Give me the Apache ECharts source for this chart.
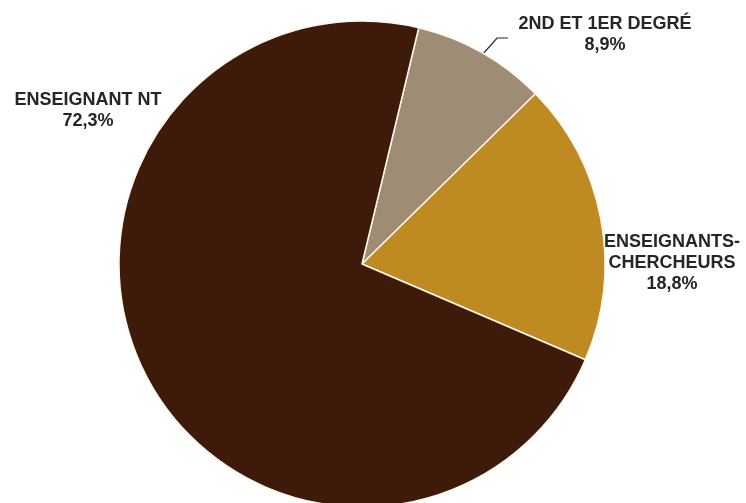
<!DOCTYPE html>
<html><head><meta charset="utf-8">
<script src="https://cdn.jsdelivr.net/npm/echarts@6/dist/echarts.min.js"></script>
<style>html,body{margin:0;padding:0;background:#fff}#c{width:746px;height:503px}</style>
</head><body><div id="c"></div>
<script>
var categories = ['2ND ET 1ER DEGRÉ', 'ENSEIGNANTS-\nCHERCHEURS', 'ENSEIGNANT NT'];
var values = [8.9, 18.8, 72.3];
var colors = ['#9E8C74', '#BF8A22', '#3E1A0A'];
var labelPos = [[605, 35], [672, 263], [88, 111]];
var linePts = [[[482, 55], [497, 38], [508, 38]], null, null];

var chart = echarts.init(document.getElementById('c'), null, {renderer: 'canvas'});
var data = categories.map(function (c, i) {
  return {
    name: c, value: values[i],
    itemStyle: {color: colors[i]},
    labelLine: {show: !!linePts[i], lineStyle: {color: '#262626', width: 1.2}}
  };
});
chart.setOption({
  animation: false,
  series: [{
    type: 'pie',
    center: [362, 264],
    radius: 243,
    startAngle: 76.5,
    clockwise: true,
    data: data,
    itemStyle: {borderColor: '#FFF6EA', borderWidth: 1.5},
    label: {
      show: true, position: 'outside', overflow: 'none',
      formatter: function (p) { return p.name + '\n' + p.value.toFixed(1).replace('.', ',') + '%'; },
      fontFamily: 'Liberation Sans, Arial, sans-serif', fontWeight: 'bold',
      fontSize: 18, lineHeight: 21, color: '#262626', align: 'center'
    },
    labelLayout: function (p) {
      var i = p.dataIndex;
      var r = {x: labelPos[i][0], y: labelPos[i][1], align: 'center', verticalAlign: 'middle'};
      if (linePts[i]) r.labelLinePoints = linePts[i];
      return r;
    }
  }]
});
</script></body></html>
